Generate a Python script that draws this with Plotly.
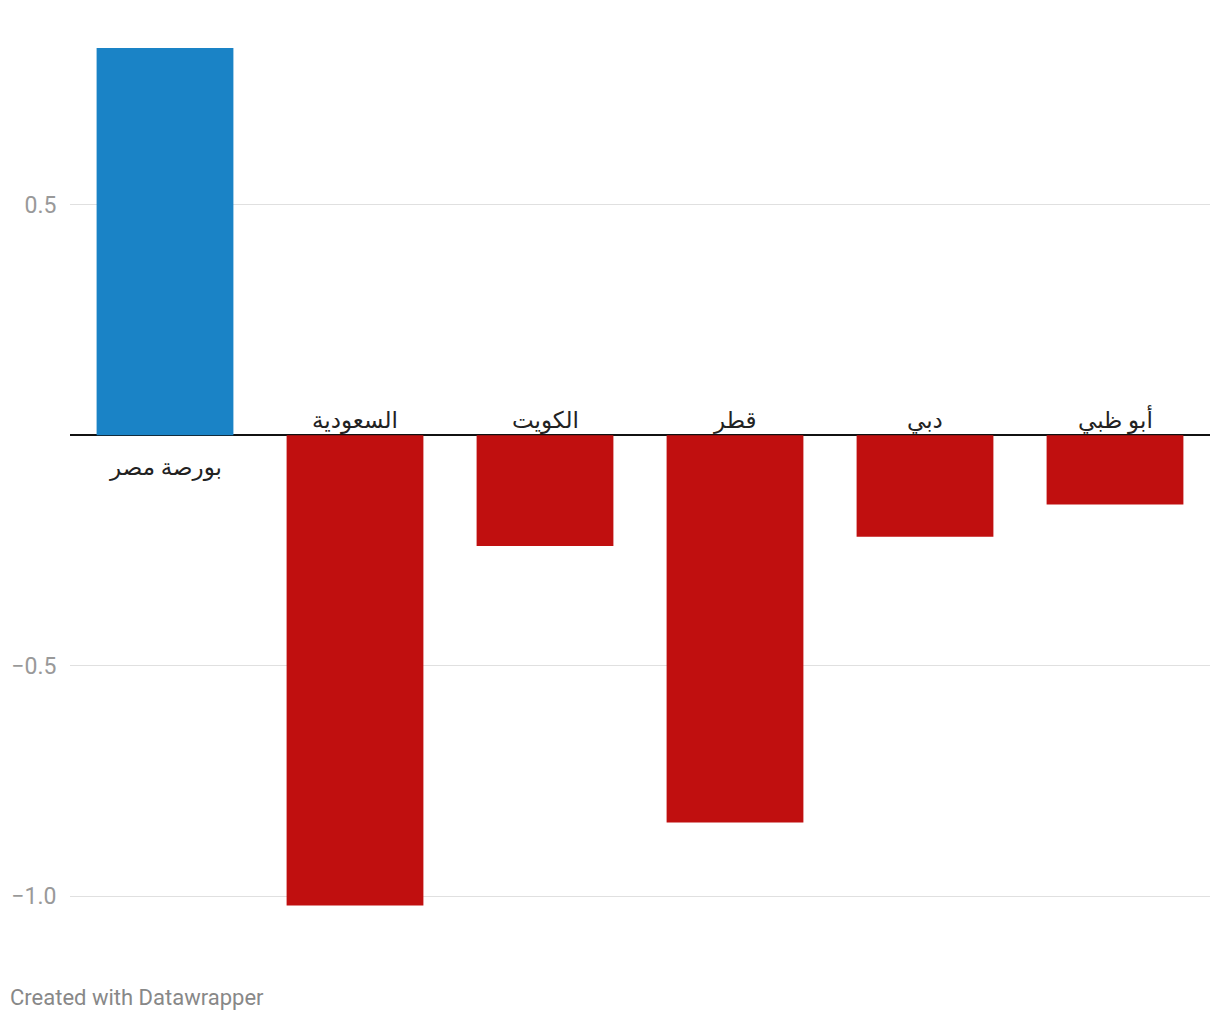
import plotly.graph_objects as go

# بيانات المؤشرات
markets = ["بورصة مصر", "السعودية", "الكويت", "قطر", "دبي", "أبو ظبي"]
changes = [0.84, -1.02, -0.24, -0.84, -0.22, -0.15]
tick_vals = [-1.0, -0.5, 0.5]
tick_text = ["−1.0", "−0.5", "0.5"]

colors = ["#1a83c6" if v >= 0 else "#c00f0f" for v in changes]

fig = go.Figure()
fig.add_trace(go.Bar(x=markets, y=changes, marker_color=colors,
                     marker_line_width=0, hoverinfo="x+y"))

# أسماء الأسواق عند خط الصفر
for m, v in zip(markets, changes):
    fig.add_annotation(x=m, y=0, text=m, showarrow=False,
                       yanchor="top" if v >= 0 else "bottom",
                       yshift=-17 if v >= 0 else -1,
                       font=dict(size=23, color="#222222"))

fig.add_annotation(x=0, y=0, xref="paper", yref="paper", text="Created with Datawrapper",
                   xanchor="left", yanchor="middle", xshift=-62, yshift=-89,
                   showarrow=False, font=dict(size=22, color="#888888"))

# الصفحة فيها هامش 8 بكسل
fig.update_layout(
    width=1212, height=1012,
    margin=dict(l=62, r=10, t=40, b=112, autoexpand=False),
    paper_bgcolor="white", plot_bgcolor="white",
    font=dict(family="Roboto, DejaVu Sans, sans-serif"),
    bargap=0.28, showlegend=False,
    xaxis=dict(showticklabels=False, showgrid=False, zeroline=False, fixedrange=True,
               automargin=False),
    yaxis=dict(range=[-1.0255, 0.84], tickvals=tick_vals, ticktext=tick_text,
               showgrid=True, gridcolor="#e0e0e0", gridwidth=1,
               zeroline=True, zerolinecolor="#111111", zerolinewidth=2,
               ticks="outside", ticklen=8, tickcolor="rgba(0,0,0,0)",
               automargin=False,
               tickfont=dict(size=23, color="#999999")),
)

fig.write_html("out.html")
